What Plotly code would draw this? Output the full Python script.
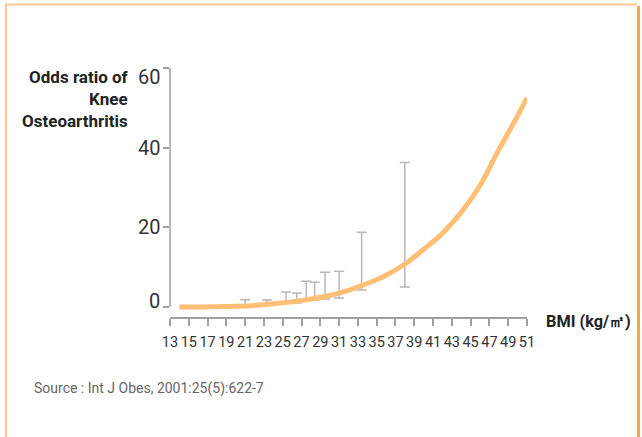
import plotly.graph_objects as go

# ---- data ----
bmi_curve = [14, 16, 18, 20, 22, 24, 26, 28, 30, 32, 34, 36, 38, 40, 42, 44, 46, 48, 50, 51]
or_curve = [0.0, 0.0, 0.1, 0.2, 0.4, 0.8, 1.3, 2.0, 2.9, 4.2, 5.9, 8.0, 10.8, 14.5, 18.5, 23.8, 30.5, 39.5, 48.0, 52.5]

bmi_ci = [21, 23.3, 25.35, 26.5, 27.5, 28.4, 29.5, 31.0, 33.4, 38.0]
ci_lower = [0.2, 0.5, 1.0, 1.0, 1.5, 1.75, 2.0, 2.25, 4.25, 5.0]
ci_upper = [1.8, 1.75, 3.75, 3.5, 6.5, 6.25, 8.75, 9.0, 18.75, 36.25]

x_ticks = list(range(13, 52, 2))
y_ticks = [0, 20, 40, 60]
y_tick_labels = ["0", "20", "40", "60"]

# ---- layout geometry (pixels) ----
W, H = 642, 437
PL, PR, PT, PB = 170, 527, 68, 317
Y_LABEL_SHIFT = [6, 0, 0, -9]   # pixel offsets of the y tick labels, as drawn in the original


def px(x):
    return (x - PL) / (PR - PL)


def py(y):
    return (PB - y) / (PB - PT)


FONT = "Roboto, DejaVu Sans Condensed, sans-serif"

fig = go.Figure()

fig.add_trace(go.Scatter(
    x=bmi_ci, y=ci_lower, mode="markers",
    marker=dict(size=1, opacity=0),
    error_y=dict(type="data", symmetric=False,
                 array=[u - l for u, l in zip(ci_upper, ci_lower)],
                 arrayminus=[0] * len(ci_lower),
                 color="#b8b8b8", thickness=1.5, width=5),
    hoverinfo="skip", showlegend=False,
))

fig.add_trace(go.Scatter(
    x=bmi_curve, y=or_curve, mode="lines",
    line=dict(color="#ffbf75", width=5, shape="spline", smoothing=1.0),
    hoverinfo="skip", showlegend=False,
))

shapes = [
    dict(type="line", xref="paper", yref="y", x0=0, x1=0, y0=y_ticks[0], y1=y_ticks[-1],
         line=dict(color="#a0a0a0", width=1.5)),
    dict(type="line", xref="paper", yref="paper", x0=px(5), x1=px(637), y0=py(4.5), y1=py(4.5),
         line=dict(color="#f9c88f", width=2)),
    dict(type="line", xref="paper", yref="paper", x0=px(6), x1=px(6), y0=py(4), y1=py(437),
         line=dict(color="#f9c88f", width=2)),
    dict(type="line", xref="paper", yref="paper", x0=px(638.5), x1=px(638.5), y0=py(6), y1=py(437),
         line=dict(color="#f8a64c", width=3)),
]

annotations = [
    dict(text="<b>Odds ratio of<br>Knee<br>Osteoarthritis</b>", xref="paper", yref="paper",
         x=px(131), y=py(65), xanchor="right", yanchor="top", align="right", showarrow=False,
         font=dict(family=FONT, size=17, color="#222222")),
    dict(text="<b>BMI (kg/㎡)</b>", xref="paper", yref="paper",
         x=px(544), y=py(321), xanchor="left", yanchor="middle", showarrow=False,
         font=dict(family=FONT, size=16.3, color="#222222")),
    dict(text="Source : Int J Obes, 2001:25(5):622-7", xref="paper", yref="paper",
         x=px(32), y=py(388), xanchor="left", yanchor="middle", showarrow=False,
         font=dict(family=FONT, size=14, color="#666666")),
]

for val, lab, sh in zip(y_ticks, y_tick_labels, Y_LABEL_SHIFT):
    annotations.append(dict(text=lab, xref="paper", yref="y", x=px(162), y=val, yshift=sh,
                            xanchor="right", yanchor="middle", showarrow=False,
                            font=dict(family=FONT, size=20, color="#333333")))

fig.update_layout(
    width=W, height=H,
    margin=dict(l=PL, r=W - PR, t=PT, b=H - PB, pad=0),
    paper_bgcolor="white", plot_bgcolor="white",
    shapes=shapes, annotations=annotations,
    xaxis=dict(range=[13, 51], tickvals=x_ticks, showgrid=False, zeroline=False,
               showline=True, linecolor="#a0a0a0", linewidth=1.5, tickangle=0,
               ticks="outside", ticklen=7, tickcolor="#a0a0a0", tickwidth=1.5,
               ticklabelstandoff=4,
               tickfont=dict(family=FONT, size=14.5, color="#333333")),
    yaxis=dict(range=[-2.5, 60], tickvals=y_ticks, showticklabels=False,
               showgrid=False, zeroline=False, showline=False,
               ticks="outside", ticklen=6, tickcolor="#a0a0a0", tickwidth=1.5),
)

fig.write_html("out.html", config={"displayModeBar": False},
               post_script="document.body.style.margin='0';")
